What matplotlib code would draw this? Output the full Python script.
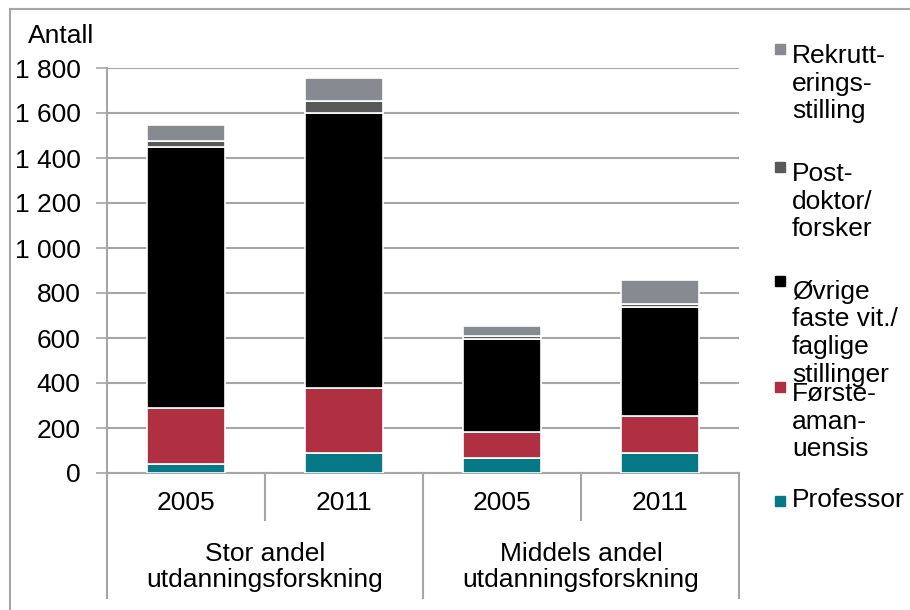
import numpy as np
import matplotlib
matplotlib.use("Agg")
import matplotlib.pyplot as plt
from matplotlib.lines import Line2D
from matplotlib.patches import Rectangle
from matplotlib.ticker import FuncFormatter

plt.rcParams['font.family'] = ['Liberation Sans', 'DejaVu Sans']

# --- data ------------------------------------------------------------------
years = ["2005", "2011", "2005", "2011"]
groups = ["Stor andel\nutdanningsforskning", "Middels andel\nutdanningsforskning"]

professor = [39, 89, 67, 91]
forsteaman = [249, 287, 114, 163]
ovrige = [1160, 1222, 413, 486]
postdoc = [29, 55, 16, 13]
rekrutt = [70, 102, 45, 105]

series = [
    ("Professor", professor, "#077886"),
    ("Første-\naman-\nuensis", forsteaman, "#AE3041"),
    ("Øvrige\nfaste vit./\nfaglige\nstillinger", ovrige, "#000000"),
    ("Post-\ndoktor/\nforsker", postdoc, "#595959"),
    ("Rekrutt-\nerings-\nstilling", rekrutt, "#878B91"),
]

W, H = 910, 610
GRID = "#A6A6A6"
FS = 19
LINE_PX = 1.2 * FS * 100 / 72   # px between text lines

fig = plt.figure(figsize=(W / 100, H / 100), dpi=100)
ax = fig.add_axes([107 / W, 1 - 473 / H, 632 / W, 405 / H])

x = np.arange(len(years))
bottom = np.zeros(len(years))
for name, vals, col in series:
    ax.bar(x, vals, width=0.49, bottom=bottom, color=col,
           edgecolor="white", linewidth=1.2, zorder=3)
    bottom += np.array(vals)

ax.set_xlim(-0.5, 3.5)
ax.set_ylim(0, 1800)
ax.set_yticks(np.arange(0, 1801, 200))
ax.yaxis.set_major_formatter(FuncFormatter(lambda v, p: f"{int(v):,}".replace(",", " ")))
ax.tick_params(axis="y", length=8, width=1.2, color=GRID, pad=11, labelsize=FS)
ax.set_xticks([])
ax.grid(axis="y", color=GRID, lw=1.5, zorder=0)
ax.set_axisbelow(True)
for s in ["top", "right"]:
    ax.spines[s].set_visible(False)
for s in ["left", "bottom"]:
    ax.spines[s].set_color(GRID)
    ax.spines[s].set_linewidth(1.5)

# multi-level category axis
tr = ax.get_xaxis_transform()
for xi, yr in zip(x, years):
    ax.text(xi, -30 / 405, yr, transform=tr, ha="center", va="center", fontsize=FS)
for gi, g in enumerate(groups):
    ax.text(0.5 + 2 * gi, -94 / 405, g, transform=tr, ha="center", va="center",
            fontsize=FS, linespacing=1.15)
for xs in [-0.5, 1.5, 3.5]:
    ax.add_line(Line2D([xs, xs], [0, -125 / 405], transform=tr, color=GRID,
                       lw=1.5, clip_on=False))
for xs in [0.5, 2.5]:
    ax.add_line(Line2D([xs, xs], [0, -47 / 405], transform=tr, color=GRID,
                       lw=1.5, clip_on=False))

fig.text(61 / W, 1 - 36 / H, "Antall", ha="center", va="center", fontsize=FS)

# legend (manual, top to bottom); leg_y = baseline of first line in px
leg_y = [62, 180, 294, 400, 514]
for (name, vals, col), yb in zip(series[::-1], leg_y):
    n = name.count("\n")
    fig.add_artist(Rectangle((775 / W, 1 - (yb - 8) / H), 10 / W, 10 / H,
                             transform=fig.transFigure, color=col))
    fig.text(792 / W, 1 - (yb - 7 + n * LINE_PX) / H, name, ha="left",
             va="baseline", fontsize=FS, linespacing=1.2)

# outer frame
fig.add_artist(Line2D([10 / W, 10 / W], [0, 1 - 9 / H], transform=fig.transFigure,
                      color=GRID, lw=1.5))
fig.add_artist(Line2D([10 / W, 1], [1 - 9 / H, 1 - 9 / H], transform=fig.transFigure,
                      color=GRID, lw=1.5))

fig.savefig("out.png", dpi=100)
